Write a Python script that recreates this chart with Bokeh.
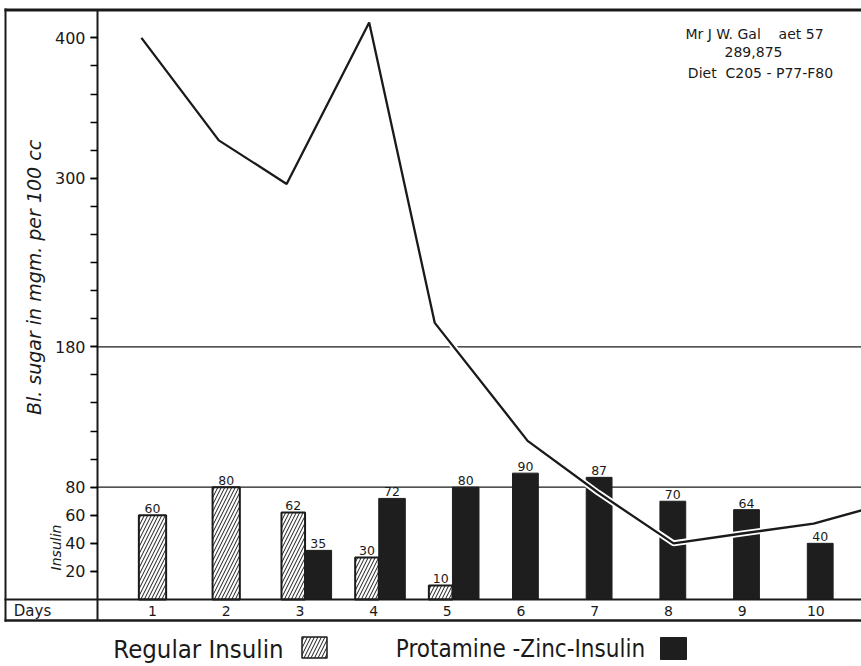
import math
from bokeh.plotting import figure
from bokeh.models import Range1d, LinearAxis, FixedTicker
from bokeh.core.properties import value
from bokeh.embed import file_html
from bokeh.resources import INLINE

# ---------------- data ----------------
days = [1, 2, 3, 4, 5, 6, 7, 8, 9, 10]
regular_days = [1, 2, 3, 4, 5]
regular_units = [60, 80, 62, 30, 10]
pzi_days = [3, 4, 5, 6, 7, 8, 9, 10]
pzi_units = [35, 72, 80, 90, 87, 70, 64, 40]
sugar_days = [0.85, 1.9, 2.82, 3.94, 4.83, 6.09, 7.05, 8.07, 9.0, 9.97, 11.0]
sugar_values = [400, 327, 296, 411, 197, 113, 76, 40, 47, 54, 69]
y_tick_labels = [20, 40, 60, 80, 180, 300, 400]
y_minor_ticks = list(range(20, 420, 20))
reference_lines = [180, 80]
NB = "\u00a0"
header_lines = ["Mr J W. Gal" + NB * 4 + "aet 57", "289,875", "Diet" + NB * 2 + "C205 - P77-F80"]
legend_labels = ["Regular Insulin", "Protamine -Zinc-Insulin"]

# ---------------- layout helpers (canvas pixel -> data) ----------------
W, H = 861, 664
def px(xp):
    return 1 + (xp - 152) / 73.7
def py(yp):
    return (599 - yp) / 1.404

X_START, X_END = px(0), px(W)
Y_START, Y_END = py(H), py(0)

FONT = "DejaVu Sans"
COND = "'DejaVu Sans Condensed', 'Liberation Sans Narrow', 'DejaVu Sans', sans-serif"
INK = "#1a1a1a"

p = figure(width=W, height=H, x_range=Range1d(X_START, X_END), y_range=Range1d(Y_START, Y_END),
           x_axis_type=None, y_axis_type=None, min_border=0, toolbar_location=None,
           output_backend="svg", outline_line_color=None, background_fill_color="white",
           border_fill_color="white")

# outer frame lines
p.segment(x0=[px(4)], x1=[X_END], y0=[py(9.5)], y1=[py(9.5)], line_color=INK, line_width=3)
p.segment(x0=[px(4)], x1=[X_END], y0=[py(620)], y1=[py(620)], line_color=INK, line_width=2.5)
p.segment(x0=[px(5)], x1=[px(5)], y0=[py(8)], y1=[py(621)], line_color=INK, line_width=2)

# reference (grid) lines
p.segment(x0=[px(97)] * len(reference_lines), x1=[X_END] * len(reference_lines),
          y0=reference_lines, y1=reference_lines, line_color=INK, line_width=1.3)

# y axis
yaxis = LinearAxis(fixed_location=px(97),
                   ticker=FixedTicker(ticks=y_tick_labels, minor_ticks=y_minor_ticks),
                   bounds=(py(620), py(9)))
yaxis.axis_line_width = 2
yaxis.axis_line_color = INK
yaxis.major_tick_out = 7
yaxis.major_tick_in = 0
yaxis.minor_tick_out = 7
yaxis.minor_tick_in = 0
yaxis.major_tick_line_width = 1.5
yaxis.minor_tick_line_width = 1.5
yaxis.major_label_text_font = FONT
yaxis.major_label_text_font_size = "16px"
yaxis.major_label_text_color = INK
yaxis.major_label_standoff = 5
p.add_layout(yaxis, "left")

# x axis (days row)
xaxis = LinearAxis(fixed_location=0, ticker=FixedTicker(ticks=days, minor_ticks=[]),
                   bounds=(px(4), X_END))
xaxis.axis_line_width = 2
xaxis.axis_line_color = INK
xaxis.major_tick_out = 0
xaxis.major_tick_in = 0
xaxis.major_label_text_font = FONT
xaxis.major_label_text_font_size = "14px"
xaxis.major_label_text_color = INK
xaxis.major_label_standoff = 6
p.add_layout(xaxis, "below")

# bars
reg_x = [d - 0.09 if d in pzi_days else d for d in regular_days]
reg_w = [0.32 if d in pzi_days else 0.37 for d in regular_days]
pzi_x = [d + 0.25 if d in regular_days else d + 0.06 for d in pzi_days]
pzi_w = [0.36 if d in regular_days else 0.35 for d in pzi_days]

p.vbar(x=reg_x, top=regular_units, bottom=0, width=reg_w, fill_color="white",
       hatch_pattern="/", hatch_color=INK, hatch_scale=7, hatch_weight=1,
       line_color=INK, line_width=2)
p.vbar(x=pzi_x, top=pzi_units, bottom=0, width=pzi_w, fill_color="#1e1e1e",
       line_color="#1e1e1e", line_width=1)

p.text(x=reg_x, y=regular_units, text=[str(v) for v in regular_units], y_offset=-2,
       text_align="center", text_baseline="bottom", text_font=value(FONT),
       text_font_size="12.5px", text_color=INK)
p.text(x=pzi_x, y=pzi_units, text=[str(v) for v in pzi_units], y_offset=-2,
       text_align="center", text_baseline="bottom", text_font=value(FONT),
       text_font_size="12.5px", text_color=INK)

# blood sugar line (white halo so it reads on the black bars)
p.line(sugar_days, sugar_values, line_color="white", line_width=6)
p.line(sugar_days, sugar_values, line_color=INK, line_width=2.3)

# axis labels and texts
p.text(x=[px(33)], y=[py(277)], text=["Bl. sugar in mgm. per 100 cc"], angle=math.pi / 2,
       text_align="center", text_baseline="middle", text_font=value(FONT),
       text_font_style="italic", text_font_size="19px", text_color=INK)
p.text(x=[px(55)], y=[py(547)], text=["Insulin"], angle=math.pi / 2,
       text_align="center", text_baseline="middle", text_font=value(FONT),
       text_font_style="italic", text_font_size="14px", text_color=INK)
p.text(x=[px(32)], y=[py(610)], text=["Days"], text_align="center", text_baseline="middle",
       text_font=value(FONT), text_font_size="15px", text_color=INK)

p.text(x=[px(754), px(753), px(760)], y=[py(33), py(51), py(72)], text=header_lines,
       text_align="center", text_baseline="middle", text_font=value(FONT),
       text_font_size="14px", text_color=INK)

# legend (text followed by swatch, as in the original)
p.text(x=[px(198)], y=[py(648)], text=legend_labels[:1],
       text_align="center", text_baseline="middle", text_font=value(COND),
       text_font_size="25.5px", text_color=INK)
p.text(x=[px(520)], y=[py(648)], text=legend_labels[1:],
       text_align="center", text_baseline="middle", text_font=value(COND),
       text_font_size="24px", text_color=INK)
p.rect(x=[px(314)], y=[py(647)], width=25, height=21, width_units="screen",
       height_units="screen", fill_color="white", hatch_pattern="/", hatch_color=INK,
       hatch_scale=7, hatch_weight=1, line_color=INK, line_width=1.5)
p.rect(x=[px(673)], y=[py(648)], width=26, height=22, width_units="screen",
       height_units="screen", fill_color="#1e1e1e", line_color="#1e1e1e")

open("out.html", "w").write(file_html(p, INLINE))
